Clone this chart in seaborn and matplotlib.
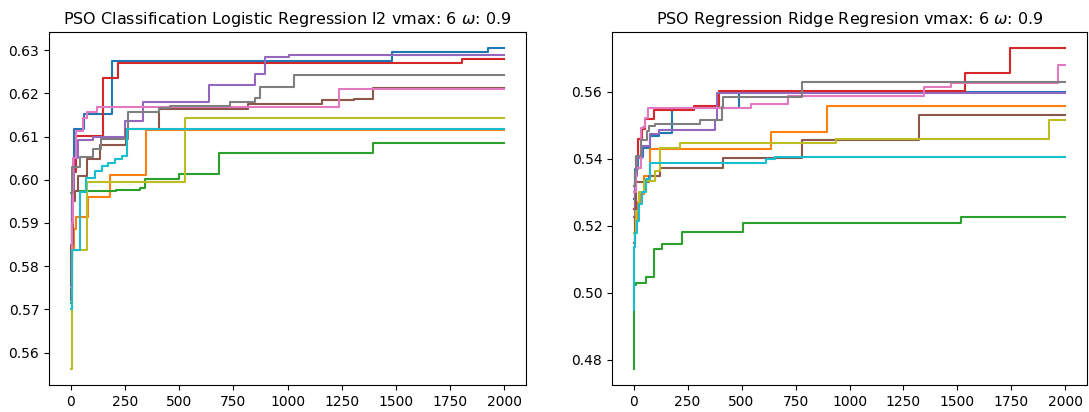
import numpy as np
import matplotlib
matplotlib.use("Agg")
import matplotlib.pyplot as plt
import seaborn as sns

# ---------------- data: change points (iteration, best score) ----------------
TITLE_LEFT = r"PSO Classification Logistic Regression l2 vmax: 6 $\omega$: 0.9"
TITLE_RIGHT = r"PSO Regression Ridge Regresion vmax: 6 $\omega$: 0.9"
N_ITER = 2000
x_ticks = [0, 250, 500, 750, 1000, 1250, 1500, 1750, 2000]
left_yticks = [0.56, 0.57, 0.58, 0.59, 0.60, 0.61, 0.62, 0.63]
right_yticks = [0.48, 0.50, 0.52, 0.54, 0.56]

# Left panel (classification)
cls_it_0 = [0, 5, 12, 17, 63, 189, 1482, 1926]
cls_val_0 = [0.5800, 0.5950, 0.6030, 0.6117, 0.6152, 0.6275, 0.6296, 0.6305]
cls_it_1 = [0, 15, 26, 80, 183, 346]
cls_val_1 = [0.5840, 0.5885, 0.5914, 0.5960, 0.6012, 0.6115]
cls_it_2 = [0, 4, 6, 210, 318, 341, 499, 682, 1396]
cls_val_2 = [0.5715, 0.5837, 0.5974, 0.5977, 0.5981, 0.6001, 0.6014, 0.6063, 0.6086]
cls_it_3 = [0, 5, 12, 25, 150, 216, 1807]
cls_val_3 = [0.5815, 0.5950, 0.6017, 0.6102, 0.6236, 0.6271, 0.6280]
cls_it_4 = [0, 6, 15, 35, 105, 250, 333, 637, 848, 894, 1009]
cls_val_4 = [0.5820, 0.5960, 0.6050, 0.6093, 0.6098, 0.6135, 0.6181, 0.6219, 0.6245, 0.6284, 0.6288]
cls_it_5 = [0, 3, 12, 22, 35, 74, 135, 253, 407, 817, 1160, 1309, 1396]
cls_val_5 = [0.5722, 0.5850, 0.5952, 0.5975, 0.6008, 0.6048, 0.6081, 0.6117, 0.6163, 0.6175, 0.6184, 0.6186, 0.6213]
cls_it_6 = [0, 5, 12, 25, 59, 74, 120, 1237]
cls_val_6 = [0.5752, 0.5900, 0.6050, 0.6113, 0.6144, 0.6156, 0.6169, 0.6211]
cls_it_7 = [0, 8, 43, 105, 140, 263, 407, 456, 733, 848, 871, 1032]
cls_val_7 = [0.5969, 0.6029, 0.6052, 0.6071, 0.6094, 0.6157, 0.6166, 0.6171, 0.6179, 0.6189, 0.6215, 0.6242]
cls_it_8 = [0, 5, 74, 525]
cls_val_8 = [0.5562, 0.5837, 0.5994, 0.6144]
cls_it_9 = [0, 6, 41, 72, 112, 143, 174, 204, 235, 258]
cls_val_9 = [0.5700, 0.5837, 0.5971, 0.6003, 0.6021, 0.6033, 0.6040, 0.6048, 0.6056, 0.6117]

# Right panel (regression)
reg_it_0 = [0, 8, 20, 45, 74, 117, 178, 490]
reg_val_0 = [0.5280, 0.5370, 0.5405, 0.5434, 0.5468, 0.5478, 0.5553, 0.5600]
reg_it_1 = [0, 8, 20, 35, 50, 78, 635, 897]
reg_val_1 = [0.5150, 0.5216, 0.5270, 0.5296, 0.5350, 0.5429, 0.5480, 0.5558]
reg_it_2 = [0, 2, 9, 58, 94, 132, 224, 508, 1515]
reg_val_2 = [0.4773, 0.5023, 0.5030, 0.5048, 0.5132, 0.5147, 0.5182, 0.5209, 0.5228]
reg_it_3 = [0, 5, 12, 21, 41, 55, 94, 278, 396, 1533, 1745]
reg_val_3 = [0.5250, 0.5350, 0.5405, 0.5459, 0.5488, 0.5518, 0.5545, 0.5558, 0.5604, 0.5656, 0.5731]
reg_it_4 = [0, 6, 15, 40, 78, 117, 378, 386]
reg_val_4 = [0.5226, 0.5350, 0.5404, 0.5440, 0.5474, 0.5485, 0.5515, 0.5598]
reg_it_5 = [0, 5, 10, 71, 124, 416, 780, 1320]
reg_val_5 = [0.5150, 0.5230, 0.5330, 0.5350, 0.5372, 0.5404, 0.5457, 0.5531]
reg_it_6 = [0, 10, 35, 44, 52, 68, 542, 716, 1346, 1468, 1965]
reg_val_6 = [0.5300, 0.5374, 0.5491, 0.5495, 0.5521, 0.5551, 0.5564, 0.5587, 0.5614, 0.5627, 0.5679]
reg_it_7 = [0, 5, 12, 35, 60, 71, 101, 309, 408, 416, 780]
reg_val_7 = [0.5320, 0.5360, 0.5409, 0.5455, 0.5483, 0.5498, 0.5503, 0.5515, 0.5555, 0.5584, 0.5629]
reg_it_8 = [0, 10, 25, 50, 100, 124, 217, 938, 1926]
reg_val_8 = [0.5180, 0.5245, 0.5300, 0.5335, 0.5365, 0.5432, 0.5449, 0.5459, 0.5515]
reg_it_9 = [0, 3, 8, 15, 25, 40, 58, 78, 611, 654]
reg_val_9 = [0.4949, 0.5137, 0.5180, 0.5215, 0.5266, 0.5300, 0.5340, 0.5389, 0.5399, 0.5406]

cls_series = [(cls_it_0, cls_val_0), (cls_it_1, cls_val_1), (cls_it_2, cls_val_2),
              (cls_it_3, cls_val_3), (cls_it_4, cls_val_4), (cls_it_5, cls_val_5),
              (cls_it_6, cls_val_6), (cls_it_7, cls_val_7), (cls_it_8, cls_val_8),
              (cls_it_9, cls_val_9)]
reg_series = [(reg_it_0, reg_val_0), (reg_it_1, reg_val_1), (reg_it_2, reg_val_2),
              (reg_it_3, reg_val_3), (reg_it_4, reg_val_4), (reg_it_5, reg_val_5),
              (reg_it_6, reg_val_6), (reg_it_7, reg_val_7), (reg_it_8, reg_val_8),
              (reg_it_9, reg_val_9)]

palette = sns.color_palette("tab10", 10)

fig, axes = plt.subplots(1, 2, figsize=(10.89, 4.12), dpi=100)


def draw(ax, series, title, yticks):
    for i, (its, vals) in enumerate(series):
        xs = list(its) + [N_ITER]
        ys = list(vals) + [vals[-1]]
        sns.lineplot(x=xs, y=ys, ax=ax, color=palette[i], drawstyle="steps-post",
                     linewidth=1.5, estimator=None, sort=False, legend=False)
    ax.set_title(title, fontsize=11.5)
    ax.set_xticks(x_ticks)
    ax.set_yticks(yticks)
    ax.set_xlabel("")
    ax.set_ylabel("")


draw(axes[0], cls_series, TITLE_LEFT, left_yticks)
draw(axes[1], reg_series, TITLE_RIGHT, right_yticks)
axes[0].set_yticklabels([f"{v:.2f}" for v in left_yticks])
axes[1].set_yticklabels([f"{v:.2f}" for v in right_yticks])

# place axes like the reference
axes[0].set_position([49 / 1089, 1 - 385 / 412, (526 - 49) / 1089, (385 - 32) / 412])
axes[1].set_position([612 / 1089, 1 - 385 / 412, (1087 - 612) / 1089, (385 - 32) / 412])

fig.savefig("out.png", dpi=100)
